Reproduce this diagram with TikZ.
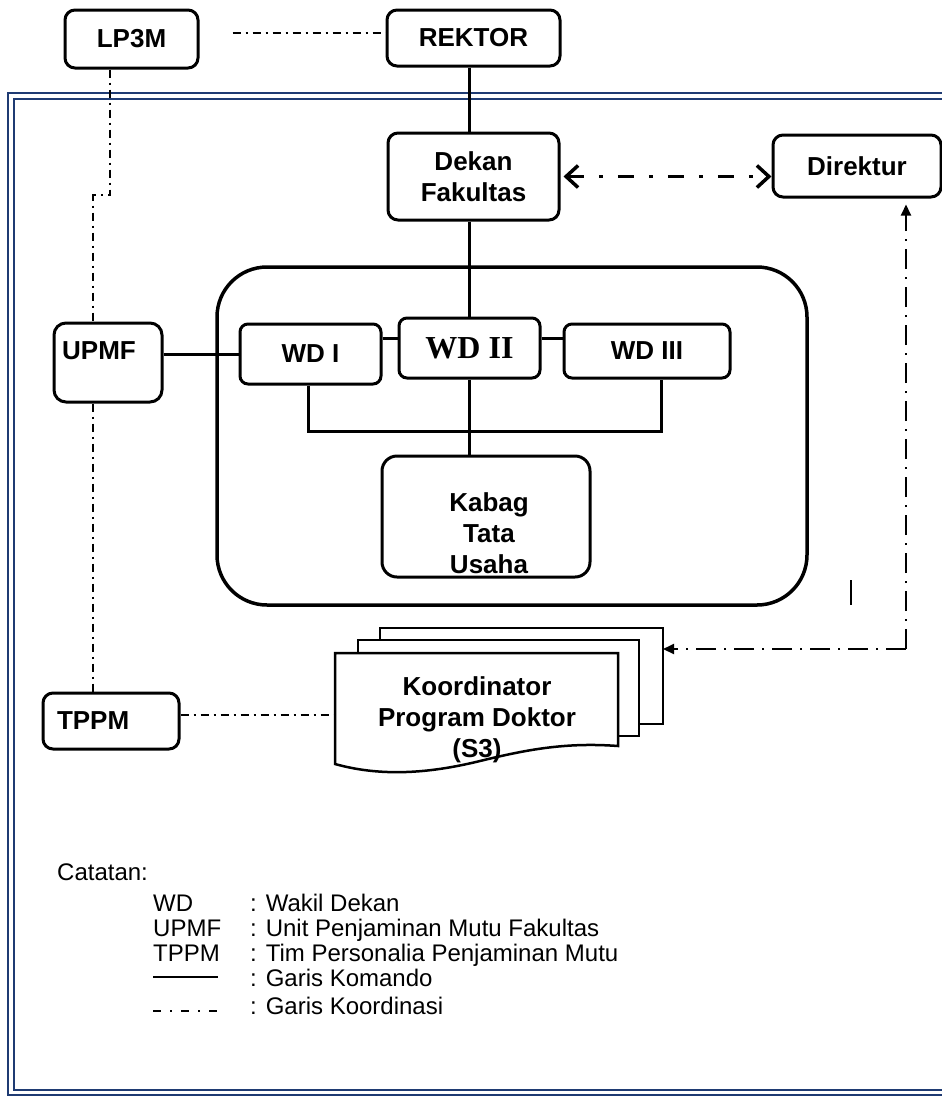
\documentclass[tikz,border=0pt]{standalone}
\usepackage{fontspec}
\setmainfont{Liberation Sans}
\newfontfamily\wdserif{Liberation Serif}
\usetikzlibrary{arrows.meta,positioning,calc}
\definecolor{framenavy}{HTML}{1F3B73}
\tikzset{
    unit/.style={
    rectangle,rounded corners=10pt,draw=black,line width=3pt,inner sep=0pt,
    font=\fontsize{26}{31}\selectfont\bfseries,align=center
    },
    wdunit/.style={
    unit,rounded corners=8pt
    },
    caption/.style={
    font=\fontsize{26}{31}\selectfont\bfseries,align=center,inner sep=0pt
    },
    note/.style={
    font=\fontsize{24}{25}\selectfont,anchor=base west,inner sep=0pt
    },
    komando/.style={
    draw=black,line width=3pt
    },
    koordinasi/.style={
    draw=black,line width=2pt,dash pattern=on 8pt off 5pt on 2pt off 5pt
    },
    koordtebal/.style={
    draw=black,line width=3.5pt,dash pattern=on 16pt off 15pt on 4pt off 15pt
    },
    koordkanan/.style={
    draw=black,line width=2pt,dash pattern=on 20pt off 8pt on 2pt off 8pt
    },
    docpage/.style={
    draw=black,fill=white,line width=2.5pt
    },
}

\begin{document}
\begin{tikzpicture}[x=1pt,y=-1pt]
  \useasboundingbox (0,0) rectangle (942,1096);
  \draw[framenavy,line width=2pt] (942,93) -- (8,93) -- (8,1094.5) -- (942,1094.5);
  \draw[framenavy,line width=2pt] (942,99) -- (14,99) -- (14,1089.5) -- (942,1089.5);

  \node[unit,minimum width=133,minimum height=58] (LP3M) at (131.5,39) {LP3M};
  \node[unit,minimum width=173,minimum height=56] (REKTOR) at (473.5,38) {REKTOR};
  \node[unit,minimum width=171,minimum height=87] (DEKAN) at (473.5,176.5) {Dekan\\Fakultas};
  \node[unit,minimum width=168,minimum height=62] (DIREKTUR) at (857,166) {Direktur};

  \node[draw=black,line width=3.5pt,rounded corners=50pt,minimum width=590,minimum height=338] (GROUP) at (512,436) {};
  \node[wdunit,minimum width=141,minimum height=60] (WD1) at (310.5,354) {WD I};
  \node[wdunit,minimum width=141,minimum height=60,font=\fontsize{32}{36}\wdserif\bfseries] (WD2) at (469.5,348) {WD II};
  \node[wdunit,minimum width=166,minimum height=54] (WD3) at (647,351) {WD III};
  \node[unit,rounded corners=15pt,minimum width=208,minimum height=121] (KABAG) at (486,516.5) {};
  \node[caption] (KABAGTXT) at (489,533) {Kabag\\Tata\\Usaha};

  \node[unit,rounded corners=12pt,minimum width=108,minimum height=79] (UPMF) at (108,362.5) {};
  \node[caption,anchor=base west] (UPMFTXT) at (62,359) {UPMF};
  \node[unit,minimum width=136,minimum height=56,text width=108,align=left] (TPPM) at (111,721) {TPPM};

  \draw[docpage] (380,628) rectangle (663,724);
  \draw[docpage] (358,640) rectangle (639,736);
  \draw[docpage] (335,653) -- (618,653) -- (618,746) .. controls (565,742) and (525,750) .. (480,761)
    .. controls (435,772) and (385,778) .. (335,764) -- cycle;
  \node[caption] (KOORD) at (477,720) {Koordinator\\Program Doktor\\(S3)};
  \coordinate (KOORDW) at (335,715);
  \coordinate (KOORDE) at (663,649);

  \draw[komando] (REKTOR.south -| WD2.north) -- (DEKAN.north -| WD2.north);
  \draw[komando] (DEKAN.south -| WD2.north) -- (WD2.north);
  \draw[komando] (WD2.south) -- (WD2.south |- KABAG.north);
  \draw[komando] (UPMF.east |- WD1.west) -- (WD1.west);
  \coordinate (JOIN) at (0,338.5);
  \draw[komando] (WD1.east |- JOIN) -- (WD2.west |- JOIN);
  \draw[komando] (WD2.east |- JOIN) -- (WD3.west |- JOIN);
  \coordinate (BARL) at (308,431);
  \coordinate (BARR) at (661,431);
  \draw[komando] (WD1.south -| BARL) -- (BARL) -- (BARR) -- (WD3.south -| BARR);

  \coordinate (TOPLINE) at (0,33);
  \draw[koordinasi,shorten <=33pt] (LP3M.east |- TOPLINE) -- (REKTOR.west |- TOPLINE);
  \coordinate (BENDA) at (110,195);
  \coordinate (BENDB) at (93,195);
  \draw[koordinasi] (LP3M.south -| BENDA) -- (BENDA) -- (BENDB) -- (UPMF.north -| BENDB);
  \draw[koordinasi] (UPMF.south -| BENDB) -- (TPPM.north -| BENDB);
  \draw[koordinasi] (TPPM.east |- KOORDW) -- (KOORDW);

  \draw[koordtebal,{Straight Barb[length=12pt,width=22pt]}-{Straight Barb[length=12pt,width=22pt]},shorten <=3pt]
    (DEKAN.east) -- (DEKAN.east -| DIREKTUR.west);
  \coordinate (CORNER) at (906,649);
  \draw[koordkanan,-{Triangle[length=11pt,width=10pt]},shorten >=6pt] (CORNER) -- (CORNER |- DIREKTUR.south);
  \draw[koordkanan,-{Triangle[length=11pt,width=10pt]}] (CORNER) -- (KOORDE);
  \draw[line width=2pt] (851,580) -- (851,605);

  \node[note] (CATATAN) at (57,880) {Catatan:};
  \node[note] (KWD) at (153,911) {WD};
  \node[note] (VWD) at (250,911) {: Wakil Dekan};
  \node[note] (KUPMF) at (153,936) {UPMF};
  \node[note] (VUPMF) at (250,936) {: Unit Penjaminan Mutu Fakultas};
  \node[note] (KTPPM) at (153,961) {TPPM};
  \node[note] (VTPPM) at (250,961) {: Tim Personalia Penjaminan Mutu};
  \draw[line width=1.5pt] (153,977) -- (218,977);
  \node[note] (VKOM) at (250,986) {: Garis Komando};
  \draw[line width=2.5pt,dash pattern=on 8pt off 9pt on 2pt off 9pt] (153,1011) -- (220,1011);
  \node[note] (VKOOR) at (250,1014) {: Garis Koordinasi};
\end{tikzpicture}
\end{document}
